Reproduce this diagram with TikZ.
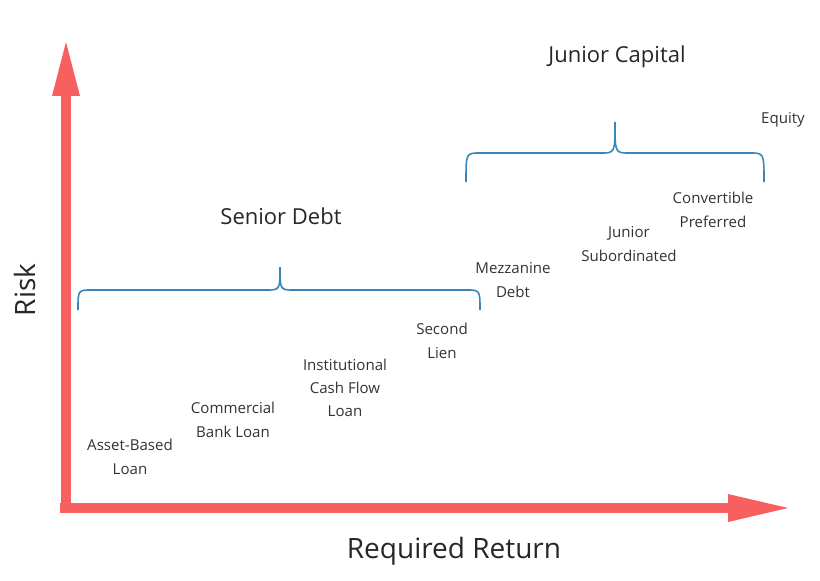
\documentclass[tikz,border=0pt]{standalone}
\usepackage{fontspec}
\setmainfont{Open Sans}
\definecolor{axisred}{HTML}{F8605F}
\definecolor{braceblue}{HTML}{3A86B8}
\begin{document}
\begin{tikzpicture}[x=0.75pt,y=-0.75pt,
  lbl/.style={align=center,font=\fontsize{11.3}{17.5}\selectfont,text=black!80},
  ttl/.style={font=\fontsize{16.5}{20}\selectfont,text=black!85},
  axl/.style={font=\fontsize{21}{25}\selectfont,text=black!85},
  brace/.style={draw=braceblue,line width=1.2pt}]
\useasboundingbox (0,0) rectangle (820,581);
% axes
\fill[axisred] (61,95) rectangle (71,512);
\fill[axisred] (52,96) -- (80,96) -- (66,42) -- cycle;
\fill[axisred] (60,503) rectangle (730,513);
\fill[axisred] (728,494) -- (728,522) -- (788,508) -- cycle;
% braces
\draw[brace] (78,310) .. controls (78,290) .. (92,290) -- (266,290) .. controls (280,290) .. (280,267) .. controls (280,290) .. (294,290) -- (466,290) .. controls (480,290) .. (480,310);
\draw[brace] (466,182) .. controls (466,153) .. (480,153) -- (601,153) .. controls (615,153) .. (615,122) .. controls (615,153) .. (629,153) -- (750,153) .. controls (764,153) .. (764,182);
% labels
\node[lbl] (abl) at (130,457) {Asset-Based\\Loan};
\node[lbl] (cbl) at (233,420) {Commercial\\Bank Loan};
\node[lbl] (icf) at (345,388) {Institutional\\Cash Flow\\Loan};
\node[lbl] (sl) at (442,341) {Second\\Lien};
\node[lbl] (mez) at (513,280) {Mezzanine\\Debt};
\node[lbl] (js) at (629,244) {Junior\\Subordinated};
\node[lbl] (cp) at (713,210) {Convertible\\Preferred};
\node[lbl] (eq) at (783,120) {Equity};
\node[ttl] (sd) at (281,216) {Senior Debt};
\node[ttl] (jc) at (617,57) {Junior Capital};
\node[axl] (rr) at (454,551) {Required Return};
\node[axl,rotate=90] (risk) at (25,290) {Risk};
\end{tikzpicture}
\end{document}
